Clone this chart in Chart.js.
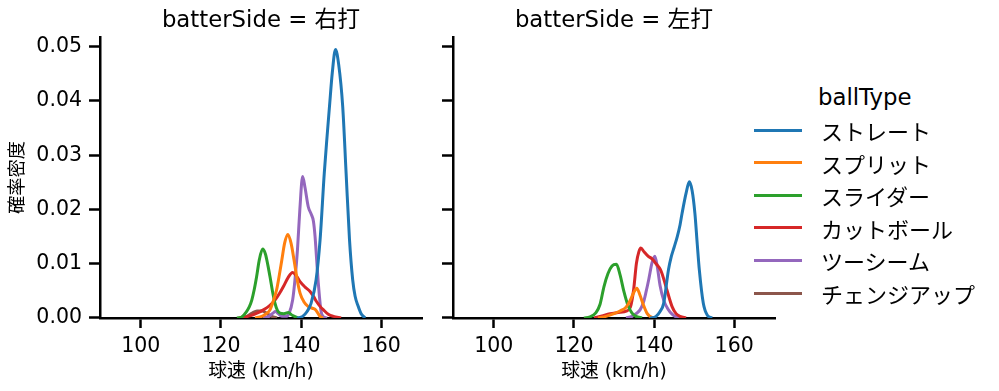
<!DOCTYPE html>
<html lang="ja">
<head>
<meta charset="utf-8">
<title>球速の確率密度</title>
<script src="https://cdn.jsdelivr.net/npm/chart.js@4.4.1/dist/chart.umd.min.js"></script>
<style>
  html, body { margin: 0; padding: 0; background: #fff; }
  #wrap { position: relative; width: 999px; height: 391px; overflow: hidden; font-family: "DejaVu Sans", "Noto Sans CJK JP", sans-serif; color: #000; }
  #wrap canvas { position: absolute; top: 0; }
  #rhbChart { left: 0; }
  #lhbChart { left: 430px; }
  .lg-title { position: absolute; left: 818px; top: 81px; height: 32px; line-height: 32px; font-size: 22.8px; white-space: nowrap; }
  .lg-row { position: absolute; left: 754px; height: 30px; width: 240px; }
  .lg-line { position: absolute; left: 0; top: 13.5px; width: 48px; height: 3px; }
  .lg-text { position: absolute; left: 67px; top: 0; line-height: 30px; font-size: 22px; white-space: nowrap; font-family: "Noto Sans CJK JP", sans-serif; }
</style>
</head>
<body>
<div id="wrap">
  <canvas id="rhbChart" width="430" height="391"></canvas>
  <canvas id="lhbChart" width="360" height="391"></canvas>
  <div id="legend"></div>
</div>
<script>
// axis ticks / categories
const speedTicks = [100, 120, 140, 160];
const densityTicks = [0, 0.01, 0.02, 0.03, 0.04, 0.05];
const ballTypes = ['ストレート', 'スプリット', 'スライダー', 'カットボール', 'ツーシーム', 'チェンジアップ'];
const batterSides = ['右打', '左打'];

// batterSide = 右打 (density curves)
const rhbStraightX = [139, 140.4, 141.5, 142.5, 143.75, 144.75, 145.8, 146.5, 147.1, 147.8, 148.6, 149.4, 150.4, 151.25, 152.1, 152.9, 153.5, 154.2, 155, 156];
const rhbStraightY = [0, 0.0003, 0.0012, 0.0027, 0.0070, 0.0144, 0.0267, 0.0335, 0.0390, 0.0452, 0.0495, 0.0467, 0.0390, 0.0267, 0.0144, 0.0070, 0.0040, 0.0023, 0.0008, 0];
const rhbSplitX = [128.5, 130.2, 131.3, 132.25, 133.1, 133.9, 134.6, 135.2, 135.9, 136.7, 137.5, 138.25, 139, 139.75, 140.7, 141.8, 142.8, 143.5, 144.2, 144.75, 145.5];
const rhbSplitY = [0, 0.0003, 0.0008, 0.0015, 0.0032, 0.0052, 0.0080, 0.0107, 0.0138, 0.0154, 0.0138, 0.0107, 0.0072, 0.0046, 0.0030, 0.0021, 0.0018, 0.0016, 0.0009, 0.0003, 0];
const rhbSliderX = [124, 125.2, 126.3, 127.1, 127.7, 128.3, 128.9, 129.6, 130.4, 131.1, 131.7, 132.25, 132.9, 133.5, 134.1, 134.75, 135.7, 136.8, 137.8, 139.3];
const rhbSliderY = [0, 0.0002, 0.0011, 0.0021, 0.0033, 0.0052, 0.0076, 0.0108, 0.0127, 0.0118, 0.0098, 0.0076, 0.0048, 0.0027, 0.0014, 0.0009, 0.0008, 0.0010, 0.0005, 0];
const rhbCutterX = [124.5, 127.25, 129, 130.6, 132, 133.5, 134.6, 135.6, 136.8, 137.9, 138.8, 139.75, 141, 142.25, 143.1, 143.9, 144.8, 145.6, 146.8, 148.1, 150];
const rhbCutterY = [0, 0.0004, 0.0009, 0.0015, 0.0022, 0.0033, 0.0045, 0.0058, 0.0075, 0.0084, 0.0078, 0.0067, 0.0057, 0.0049, 0.0040, 0.0030, 0.0021, 0.0015, 0.0007, 0.0003, 0];
const rhbTwoSeamX = [130.5, 132, 133, 133.6, 134.3, 135.2, 136.2, 137, 137.9, 138.5, 139.1, 139.7, 140.4, 141, 141.8, 142.5, 143.1, 143.5, 143.9, 144.3, 144.6, 145, 145.5, 146.5];
const rhbTwoSeamY = [0, 0.0003, 0.0009, 0.0012, 0.0008, 0.0003, 0.0003, 0.0008, 0.0033, 0.0072, 0.0125, 0.0200, 0.0261, 0.0240, 0.0205, 0.0192, 0.0178, 0.0150, 0.0107, 0.0065, 0.0039, 0.0012, 0.0003, 0];
const rhbChangeupX = [125, 126.5, 127.8, 129, 130.3, 131.5, 132.7, 134];
const rhbChangeupY = [0, 0.0003, 0.0009, 0.0013, 0.0013, 0.0008, 0.0003, 0];

// batterSide = 左打
const lhbStraightX = [139, 140.5, 141.5, 142.4, 143.6, 144.3, 145, 145.8, 146.5, 147, 148, 148.8, 149.5, 150.2, 150.8, 151.3, 152.3, 153.3, 154.5];
const lhbStraightY = [0, 0.0003, 0.0012, 0.0027, 0.0089, 0.0113, 0.0130, 0.0150, 0.0172, 0.0193, 0.0230, 0.0251, 0.0235, 0.0193, 0.0135, 0.0089, 0.0027, 0.0005, 0];
const lhbSplitX = [126, 128, 130, 131.5, 133, 134, 135, 135.7, 136.5, 137.3, 138.3, 139.5, 140.5];
const lhbSplitY = [0, 0.0003, 0.0008, 0.0013, 0.0020, 0.0032, 0.0048, 0.0055, 0.0042, 0.0025, 0.0008, 0.0001, 0];
const lhbSliderX = [122.5, 124, 125.5, 126.5, 127.5, 128.5, 129.5, 130.6, 131.5, 132.5, 133.5, 134.5, 135.5, 137];
const lhbSliderY = [0, 0.0002, 0.0010, 0.0025, 0.0058, 0.0082, 0.0096, 0.0099, 0.0080, 0.0048, 0.0023, 0.0009, 0.0003, 0];
const lhbCutterX = [125, 127, 129, 131, 133.2, 134.1, 134.9, 135.6, 136.2, 136.7, 137.5, 138.5, 139.5, 140.5, 141.6, 142.5, 143.2, 144.5, 145.5, 146.5, 148];
const lhbCutterY = [0, 0.0004, 0.0008, 0.0010, 0.0013, 0.0020, 0.0052, 0.0101, 0.0122, 0.0129, 0.0122, 0.0114, 0.0109, 0.0100, 0.0089, 0.0070, 0.0052, 0.0021, 0.0008, 0.0003, 0];
const lhbTwoSeamX = [133, 134.5, 135.5, 136.5, 137.4, 138, 138.7, 139.5, 140.2, 140.8, 141.5, 142.4, 143.5, 144.5, 145.5, 147];
const lhbTwoSeamY = [0, 0.0003, 0.0008, 0.0015, 0.0030, 0.0048, 0.0072, 0.0102, 0.0114, 0.0095, 0.0060, 0.0033, 0.0016, 0.0007, 0.0002, 0];
const lhbChangeupX = [];
const lhbChangeupY = [];

const palette = ['#1f77b4', '#ff7f0e', '#2ca02c', '#d62728', '#9467bd', '#8c564b'];

Chart.defaults.font.family = '"DejaVu Sans", "Noto Sans CJK JP", sans-serif';
Chart.defaults.color = '#000';

function makePanel(canvasId, side, xs, ys, opts) {
  const datasets = ballTypes.map((name, i) => ({
    label: name,
    data: xs[i].map((x, j) => ({ x: x, y: ys[i][j] })),
    borderColor: palette[i],
    backgroundColor: palette[i],
    borderWidth: 3,
    pointRadius: 0,
    fill: false,
    cubicInterpolationMode: 'monotone'
  }));

  return new Chart(document.getElementById(canvasId), {
    type: 'line',
    data: { datasets: datasets },
    options: {
      responsive: false,
      animation: false,
      layout: { padding: { left: 0, right: opts.padRight, top: 0, bottom: 0 }, autoPadding: false },
      plugins: {
        legend: { display: false },
        tooltip: { enabled: false },
        title: {
          display: true,
          text: 'batterSide = ' + side,
          fullSize: false,
          color: '#000',
          font: { size: 22.8, weight: 'normal' },
          padding: { top: 7, bottom: 2.6 }
        }
      },
      scales: {
        x: {
          type: 'linear',
          min: 89.8,
          max: 170.2,
          afterBuildTicks: s => { s.ticks = speedTicks.map(v => ({ value: v })); },
          afterFit: s => { s.height = 73; },
          ticks: { font: { size: 20.5 }, padding: 6, color: '#000', callback: v => String(v) },
          grid: { drawOnChartArea: false, drawTicks: true, tickLength: 10, tickWidth: 2.5, color: '#000' },
          border: { display: true, color: '#000', width: 2.5 },
          title: { display: true, text: '球速 (km/h)', color: '#000', font: { size: 18.8 }, padding: { top: 0, bottom: 8 } }
        },
        y: {
          min: 0,
          max: 0.0518,
          afterBuildTicks: s => { s.ticks = densityTicks.map(v => ({ value: v })); },
          afterFit: s => { s.width = opts.axisWidth; },
          ticks: { display: opts.showLabels, font: { size: 20.5 }, padding: 7, color: '#000', callback: v => v.toFixed(2) },
          grid: { drawOnChartArea: false, drawTicks: true, tickLength: 11, tickWidth: 2.5, color: '#000' },
          border: { display: true, color: '#000', width: 2.5 },
          title: { display: opts.showLabels, text: '確率密度', color: '#000', font: { size: 18.3 }, padding: { top: 7, bottom: 0 } }
        }
      }
    }
  });
}

const rhbChart = makePanel('rhbChart', batterSides[0],
  [rhbStraightX, rhbSplitX, rhbSliderX, rhbCutterX, rhbTwoSeamX, rhbChangeupX],
  [rhbStraightY, rhbSplitY, rhbSliderY, rhbCutterY, rhbTwoSeamY, rhbChangeupY],
  { axisWidth: 100, padRight: 8, showLabels: true });

const lhbChart = makePanel('lhbChart', batterSides[1],
  [lhbStraightX, lhbSplitX, lhbSliderX, lhbCutterX, lhbTwoSeamX, lhbChangeupX],
  [lhbStraightY, lhbSplitY, lhbSliderY, lhbCutterY, lhbTwoSeamY, lhbChangeupY],
  { axisWidth: 23, padRight: 15, showLabels: false });

// legend built from the chart's datasets
const legendEl = document.getElementById('legend');
const lgTitle = document.createElement('div');
lgTitle.className = 'lg-title';
lgTitle.textContent = 'ballType';
legendEl.appendChild(lgTitle);

lhbChart.data.datasets.forEach((ds, i) => {
  const row = document.createElement('div');
  row.className = 'lg-row';
  row.style.top = (130 + i * 32.6 - 15) + 'px';

  const line = document.createElement('div');
  line.className = 'lg-line';
  line.style.background = ds.borderColor;

  const txt = document.createElement('div');
  txt.className = 'lg-text';
  txt.textContent = ds.label;

  row.appendChild(line);
  row.appendChild(txt);
  legendEl.appendChild(row);
});
</script>
</body>
</html>
